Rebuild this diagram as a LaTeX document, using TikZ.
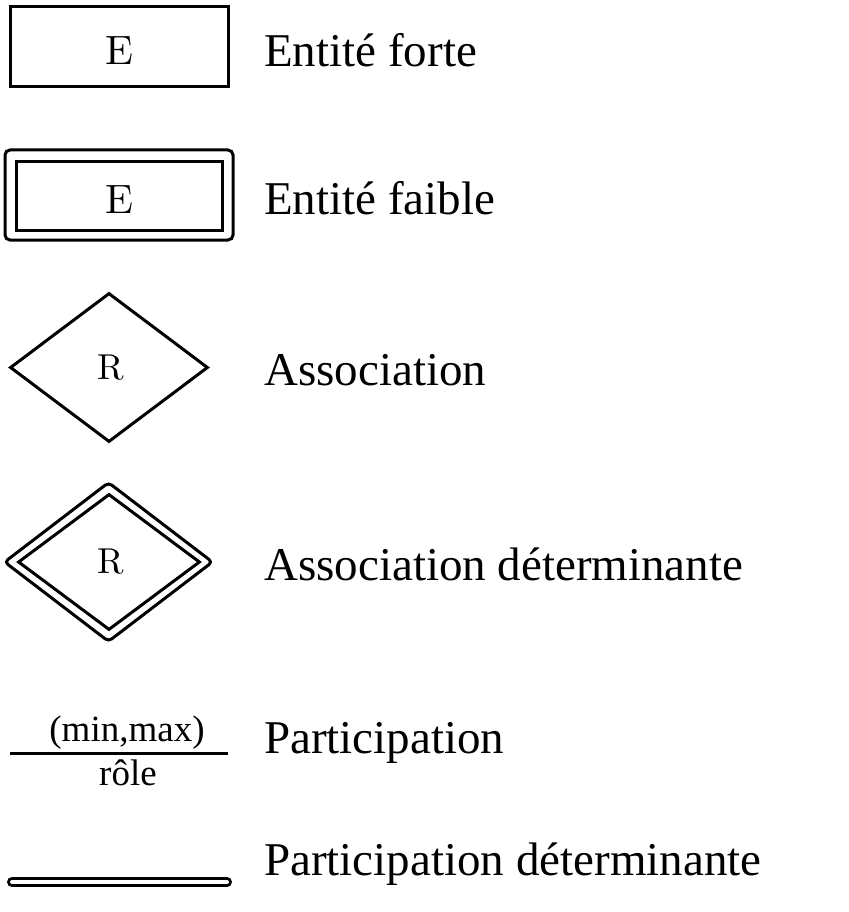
\documentclass[tikz,border=0pt]{standalone}
\usepackage{fontspec}
\setmainfont{Liberation Serif}
\newfontfamily\lmfont{lmroman10-regular}[Extension=.otf]
\usetikzlibrary{shapes.geometric}
\tikzset{
  shp/.style={draw, line width=3pt, inner sep=0pt, fill=white},
  symtxt/.style={anchor=base, inner sep=0pt, font=\lmfont\fontsize{41}{48}\selectfont},
  reltxt/.style={anchor=base, inner sep=0pt, font=\lmfont\fontsize{36}{42}\selectfont},
  lbl/.style={anchor=base west, inner sep=0pt, font=\fontsize{47}{56}\selectfont},
  small/.style={anchor=base, inner sep=0pt, font=\fontsize{37}{44}\selectfont},
}
\begin{document}
\begin{tikzpicture}[x=1pt, y=-1pt]
\useasboundingbox (0,0) rectangle (848,912);
% strong entity
\node[shp, minimum width=218pt, minimum height=80pt] (e1) at (119,47) {};
\node[symtxt] (e1t) at (e1.center |- 0,65) {E};
% weak entity
\node[shp, rounded corners=5pt, minimum width=228pt, minimum height=90pt] (e2o) at (119,195) {};
\node[shp, minimum width=206pt, minimum height=68pt] (e2) at (119,196) {};
\node[symtxt] (e2t) at (e2.center |- 0,213) {E};
% association
\node[shp, diamond, minimum width=198pt, minimum height=149pt] (r1) at (109,367.5) {};
\node[reltxt] (r1t) at (111,379) {R};
% determining association
\node[shp, diamond, rounded corners=4pt, minimum width=209pt, minimum height=160pt] (r2o) at (108.5,562) {};
\node[shp, diamond, minimum width=182pt, minimum height=136pt] (r2) at (109,562) {};
\node[reltxt] (r2t) at (111,573) {R};
% participation
\coordinate (p1) at (10,753);
\coordinate (p2) at (228,753);
\draw[line width=3pt] (p1) -- (p2);
\node[small] (mm) at (127,741) {(min,max)};
\node[small] (role) at (128,785) {rôle};
% determining participation
\coordinate (d1) at (12,882);
\coordinate (d2) at (227,882);
\draw[line width=3pt, double, double distance=4pt, line cap=round] (d1) -- (d2);
% labels
\node[lbl] (l1) at (264,67) {Entité forte};
\node[lbl] (l2) at (264,214) {Entité faible};
\node[lbl] (l3) at (264,385) {Association};
\node[lbl] (l4) at (264,580) {Association déterminante};
\node[lbl] (l5) at (264,753) {Participation};
\node[lbl] (l6) at (264,875) {Participation déterminante};
\end{tikzpicture}
\end{document}
